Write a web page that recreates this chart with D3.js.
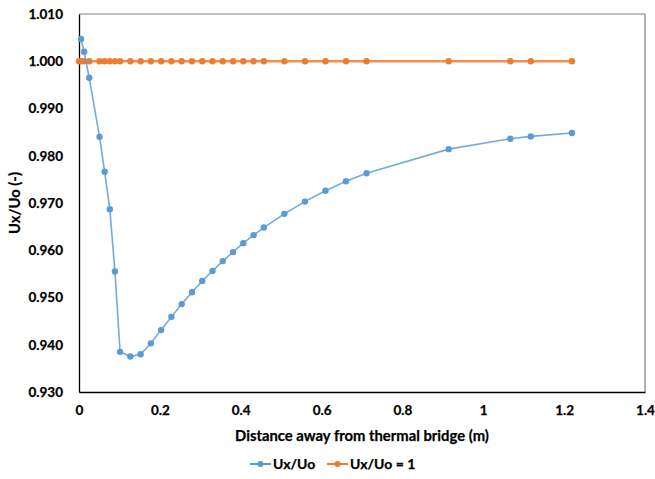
<!DOCTYPE html>
<html>
<head>
<meta charset="utf-8">
<script src="https://cdn.jsdelivr.net/npm/d3@7"></script>
<style>
  html, body { margin: 0; padding: 0; background: #fff; }
  svg { display: block; font-family: Lato, "Open Sans", sans-serif; font-weight: bold; }
  text { fill: #000; stroke: #000; stroke-width: 0.25px; }
</style>
</head>
<body>
<svg id="chart" width="655" height="479"></svg>
<script>
// Distance from the thermal bridge (m)
const distance = [0.00508, 0.0127, 0.0254, 0.0508, 0.0635, 0.0762, 0.0889, 0.1016,
  0.127, 0.1524, 0.1778, 0.2032, 0.2286, 0.254, 0.2794, 0.3048, 0.3302, 0.3556,
  0.381, 0.4064, 0.4318, 0.4572, 0.508, 0.5588, 0.6096, 0.6604, 0.7112,
  0.9144, 1.0668, 1.1176, 1.2192];

// Ux/Uo ratio at each distance
const ratio = [1.0047, 1.0020, 0.9965, 0.9840, 0.9766, 0.9687, 0.9555, 0.9385,
  0.9375, 0.9380, 0.9403, 0.9431, 0.9459, 0.9486, 0.9511, 0.9535, 0.9556, 0.9577,
  0.9596, 0.9615, 0.9632, 0.9648, 0.9677, 0.9703, 0.9726, 0.9746, 0.9763,
  0.9814, 0.9836, 0.9841, 0.9848];

// Reference line Ux/Uo = 1
const refDistance = [0].concat(distance);
const refRatio = refDistance.map(() => 1.0);

const xTicks = [0, 0.2, 0.4, 0.6, 0.8, 1, 1.2, 1.4];
const yTicks = [0.930, 0.940, 0.950, 0.960, 0.970, 0.980, 0.990, 1.000, 1.010];

const seriesNames = ["Ux/Uo", "Ux/Uo = 1"];
const colors = ["#5B9BD5", "#ED7D31"];

const svg = d3.select("#chart");
const plot = { left: 79, right: 645, top: 14, bottom: 392 };

const x = d3.scaleLinear().domain([0, 1.4]).range([plot.left, plot.right]);
const y = d3.scaleLinear().domain([0.930, 1.010]).range([plot.bottom, plot.top]);

// Plot frame: grey top/right edges
svg.append("path")
  .attr("d", `M${plot.left},${plot.top}H${plot.right}V${plot.bottom}`)
  .attr("fill", "none").attr("stroke", "#7f7f7f").attr("stroke-width", 1.2);

// Axes
const xAxis = svg.append("g")
  .attr("transform", `translate(0,${plot.bottom})`)
  .call(d3.axisBottom(x).tickValues(xTicks).tickSize(0).tickPadding(13)
    .tickFormat(d => d3.format("")(d)));
const yAxis = svg.append("g")
  .attr("transform", `translate(${plot.left},0)`)
  .call(d3.axisLeft(y).tickValues(yTicks).tickSize(0).tickPadding(16)
    .tickFormat(d3.format(".3f")));

[xAxis, yAxis].forEach(g => {
  g.select(".domain").attr("stroke", "#000").attr("stroke-width", 1.3);
  g.selectAll("text").attr("font-family", "Lato, sans-serif")
    .attr("font-weight", "bold").attr("font-size", 13.5);
});

// Axis titles
svg.append("text")
  .attr("x", (plot.left + plot.right) / 2).attr("y", 441)
  .attr("text-anchor", "middle").attr("font-size", 14.8)
  .text("Distance away from thermal bridge (m)");
svg.append("text")
  .attr("transform", `translate(20,${(plot.top + plot.bottom) / 2}) rotate(-90)`)
  .attr("text-anchor", "middle").attr("font-size", 14.8)
  .text("Ux/Uo (-)");

// Series
const line = d3.line().x(d => x(d[0])).y(d => y(d[1]));
const series = [
  { pts: d3.zip(distance, ratio), color: colors[0], width: 1.6 },
  { pts: d3.zip(refDistance, refRatio), color: colors[1], width: 2.5 }
];
// draw reference line first, then the measured ratio on top
[series[1], series[0]].forEach(s => {
  svg.append("path").datum(s.pts)
    .attr("d", line).attr("fill", "none")
    .attr("stroke", s.color).attr("stroke-width", s.width)
    .attr("stroke-opacity", 0.85);
  svg.append("g").selectAll("circle").data(s.pts).join("circle")
    .attr("cx", d => x(d[0])).attr("cy", d => y(d[1])).attr("r", 3.2)
    .attr("fill", s.color);
});

// Legend
const legendY = 464;
const legendItems = [
  { name: seriesNames[0], color: colors[0], x0: 250 },
  { name: seriesNames[1], color: colors[1], x0: 327 }
];
legendItems.forEach(it => {
  svg.append("line").attr("x1", it.x0).attr("x2", it.x0 + 21)
    .attr("y1", legendY).attr("y2", legendY)
    .attr("stroke", it.color).attr("stroke-width", 2);
  svg.append("circle").attr("cx", it.x0 + 10.5).attr("cy", legendY).attr("r", 3)
    .attr("fill", it.color);
  svg.append("text").attr("x", it.x0 + 23).attr("y", legendY + 5)
    .attr("font-size", 14).text(it.name);
});
</script>
</body>
</html>
